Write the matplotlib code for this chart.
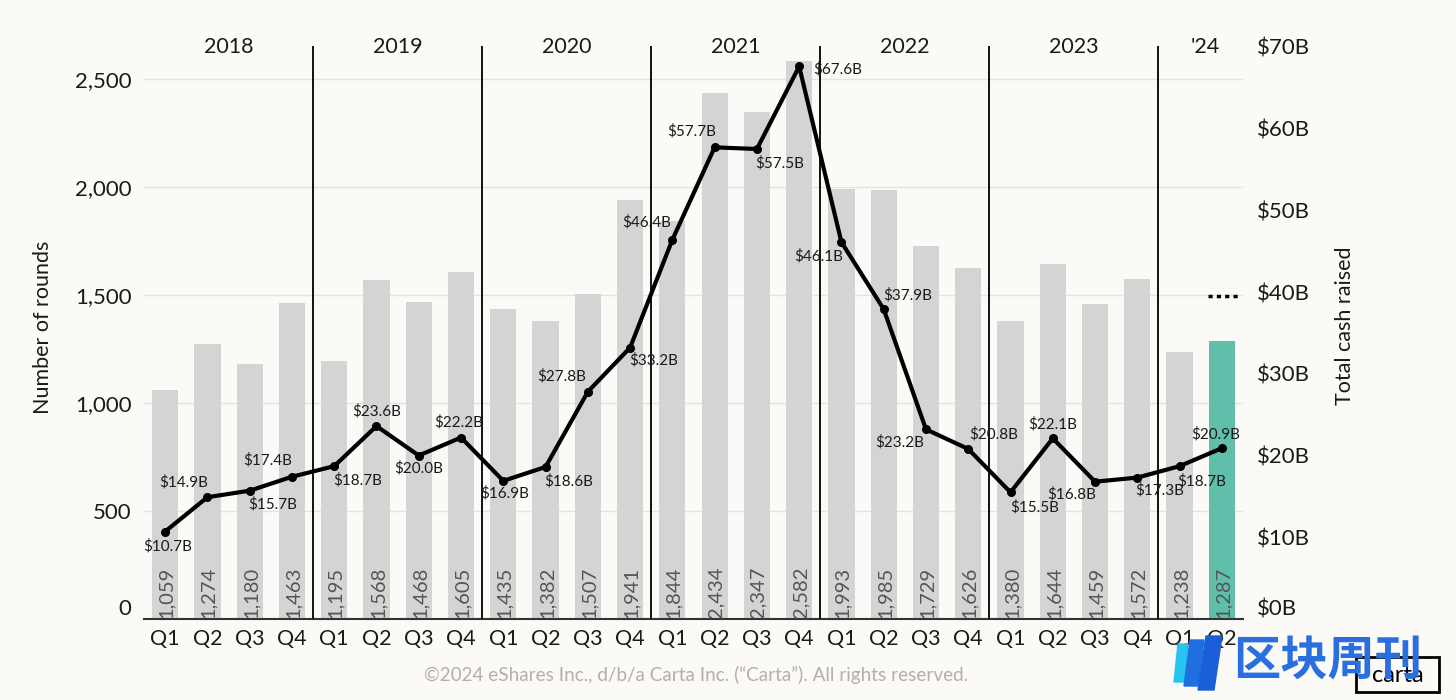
import matplotlib.pyplot as plt
from matplotlib.lines import Line2D
from matplotlib.patches import Rectangle, Polygon
import numpy as np

plt.rcParams['font.family'] = ['Lato', 'DejaVu Sans']

BG = '#fcfaf6'
GRAY_BAR = '#d4d4d4'
TEAL = '#5fbfab'

years = ['2018', '2019', '2020', '2021', '2022', '2023', "'24"]
quarters = ['Q1', 'Q2', 'Q3', 'Q4'] * 6 + ['Q1', 'Q2']
rounds = [1059, 1274, 1180, 1463,
          1195, 1568, 1468, 1605,
          1435, 1382, 1507, 1941,
          1844, 2434, 2347, 2582,
          1993, 1985, 1729, 1626,
          1380, 1644, 1459, 1572,
          1238, 1287]
cash = [10.7, 14.9, 15.7, 17.4,
        18.7, 23.6, 20.0, 22.2,
        16.9, 18.6, 27.8, 33.2,
        46.4, 57.7, 57.5, 67.6,
        46.1, 37.9, 23.2, 20.8,
        15.5, 22.1, 16.8, 17.3,
        18.7, 20.9]
left_ticks = [0, 500, 1000, 1500, 2000, 2500]
right_ticks = [0, 10, 20, 30, 40, 50, 60, 70]

# where each cash label sits relative to its point (pixels)
label_off = [(3, -15), (-24, 15), (23, -14), (-24, 17),
             (23, -14), (0, 15), (0, -13), (-2, 15),
             (1, -12), (23, -14), (-26, 16), (24, -13),
             (-26, 17), (-23, 16), (23, -14), (38, -3),
             (-23, -14), (24, 14), (-26, -13), (25, 15),
             (24, -15), (0, 14), (-23, -13), (22, -13),
             (22, -15), (-6, 14)]

x = np.arange(len(rounds))

fig = plt.figure(figsize=(14.56, 7.0), dpi=100, facecolor=BG)
ax = fig.add_axes([144 / 1456, 1 - 619 / 700, (1243 - 144) / 1456, (619 - 46) / 700])
ax.set_facecolor(BG)

colors = [GRAY_BAR] * (len(rounds) - 1) + [TEAL]
ax.bar(x, rounds, width=0.62, color=colors, zorder=2)
for xi, r in zip(x, rounds):
    ax.text(xi + 0.03, 6, f'{r:,}', rotation=90, ha='center', va='bottom',
            fontsize=14.5, color='#555555', zorder=3)

ax.set_xlim(-0.5, len(rounds) - 0.5)
ax.set_ylim(0, 2653)
ax.set_yticks(left_ticks)
ax.set_yticklabels([f'{t:,}' for t in left_ticks])
ax.yaxis.grid(True, color='#e6e3de', lw=1, zorder=0)
ax.set_axisbelow(True)
ax.set_xticks(x)
ax.set_xticklabels(quarters)
ax.tick_params(axis='x', length=0, pad=7, labelsize=15.5, colors='#1a1a1a')
ax.tick_params(axis='y', length=0, pad=9, labelsize=16, colors='#1a1a1a')
ax.get_yticklabels()[0].set_va('bottom')
for s in ['left', 'right', 'top']:
    ax.spines[s].set_visible(False)
ax.spines['bottom'].set_color('#333333')
ax.spines['bottom'].set_linewidth(1.5)

# year separators and year labels
for i in range(1, len(years)):
    ax.axvline(4 * i - 0.5, color='#111111', lw=1.4, zorder=4)
for i, yr in enumerate(years):
    idx = [j for j in range(4 * i, min(4 * i + 4, len(rounds)))]
    cx = np.mean(idx) + (0.1 if i == len(years) - 1 else 0)
    ax.text(cx, 0.998, yr, transform=ax.get_xaxis_transform(), ha='center',
            va='center', fontsize=15.5, color='#1a1a1a')

ax2 = ax.twinx()
ax2.set_ylim(0, 70.1)
ax2.set_yticks(right_ticks)
ax2.set_yticklabels([f'${t}B' for t in right_ticks])
ax2.tick_params(axis='y', length=0, pad=10, labelsize=16, colors='#1a1a1a')
ax2.get_yticklabels()[0].set_va('bottom')
for s in ['left', 'right', 'top', 'bottom']:
    ax2.spines[s].set_visible(False)

ax2.plot(x, cash, color='black', lw=3, marker='o', markersize=5.5, zorder=5)
for xi, c, (dx, dy) in zip(x, cash, label_off):
    ax2.annotate(f'${c:.1f}B', (xi, c), xytext=(dx, dy), textcoords='offset pixels',
                 ha='center', va='center', fontsize=11, color='#1a1a1a', zorder=4)

fig.text(43 / 1456, 1 - 327 / 700, 'Number of rounds', rotation=90,
         ha='center', va='center', fontsize=15.5, color='#1a1a1a')
fig.text(1345 / 1456, 1 - 326 / 700, 'Total cash raised', rotation=90,
         ha='center', va='center', fontsize=15.5, color='#1a1a1a')
fig.add_artist(Line2D([1208 / 1456, 1240 / 1456], [1 - 296 / 700, 1 - 296 / 700],
                      transform=fig.transFigure, color='black', lw=2.5,
                      linestyle=(0, (1.2, 1.2))))

fig.text(696 / 1456, 1 - 675 / 700,
         '©2024 eShares Inc., d/b/a Carta Inc. (“Carta”). All rights reserved.',
         ha='center', va='center', fontsize=13.6, color='#b3afa9')

# watermark overlay (overlaps the carta box, as in the source image)
fig.add_artist(Rectangle((1356 / 1456, 1 - 692 / 700), 83 / 1456, 35 / 700,
                         transform=fig.transFigure, fill=False, ec='black', lw=2))
fig.text(1398 / 1456, 1 - 676 / 700, 'carta', ha='center', va='center',
         fontsize=17, color='black')


def px(pts):
    return [(a / 1456, 1 - b / 700) for a, b in pts]


fig.add_artist(Polygon(px([(1178, 644), (1188, 644), (1184, 682), (1174, 682)]),
                       closed=True, transform=fig.transFigure, color='#27c4f0'))
fig.add_artist(Polygon(px([(1190, 640), (1204, 640), (1198, 686), (1184, 686)]),
                       closed=True, transform=fig.transFigure, color='#1f6fe0'))
fig.add_artist(Polygon(px([(1206, 636), (1222, 636), (1214, 690), (1198, 690)]),
                       closed=True, transform=fig.transFigure, color='#1a5fd8'))
fig.text(1233 / 1456, 1 - 661 / 700, '区块周刊', ha='left', va='center', fontsize=34,
         fontweight='bold', color='#2a6fe0', family=['Noto Sans CJK SC', 'DejaVu Sans'])

fig.savefig('out.png', dpi=100, facecolor=BG)
